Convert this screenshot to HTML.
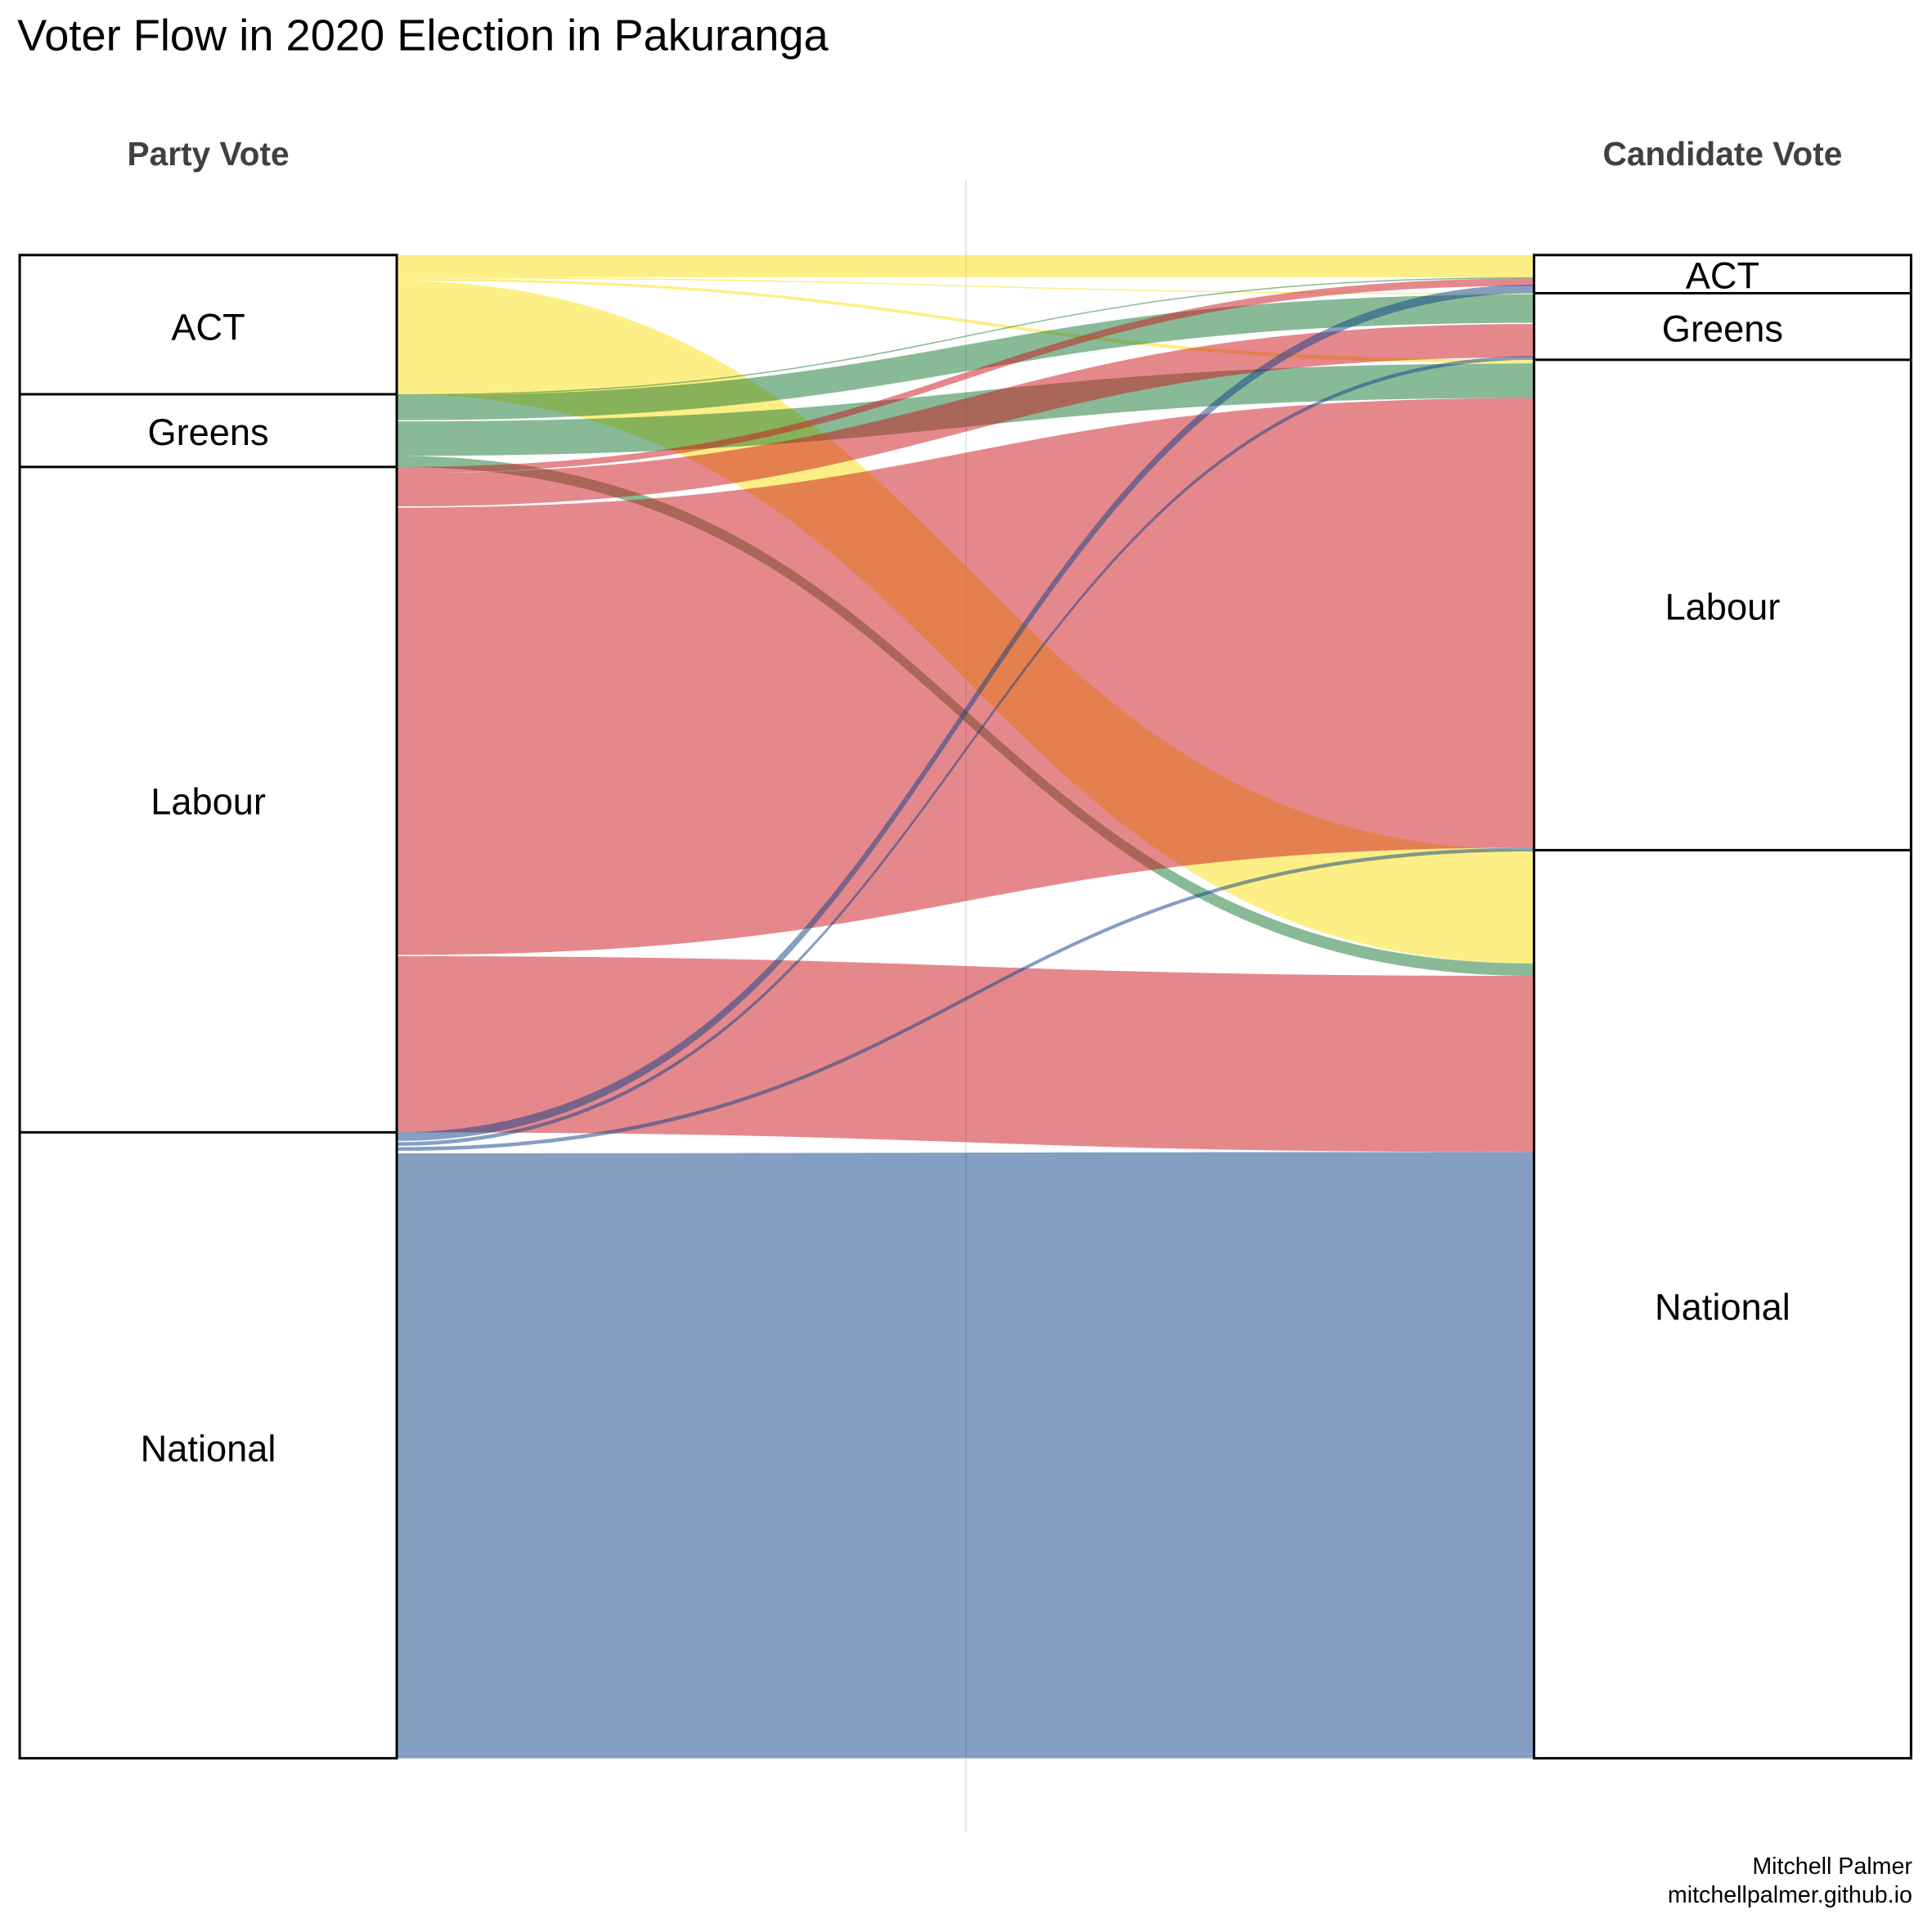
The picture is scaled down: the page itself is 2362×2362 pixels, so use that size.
<!DOCTYPE html>
<html><head><meta charset="utf-8"><style>html,body{margin:0;padding:0;background:#fff}svg{display:block}</style></head>
<body>
<svg width="2362" height="2362" viewBox="0 0 1568 1568" xmlns="http://www.w3.org/2000/svg" font-family="Liberation Sans, Arial, sans-serif">
<rect width="1568" height="1568" fill="#fff"/>
<line x1="784" y1="147" x2="784" y2="1487" stroke="#ddd" stroke-width="1"/>
<g fill-opacity="0.5">
<path fill="#F9DF0B" d="M322,207 C783,207 783,207 1245,207 L1245,225 C783,225 783,225 322,225 Z"/>
<path fill="#F9DF0B" d="M322,225 C783,225 783,238 1245,238 L1245,239 C783,239 783,226 322,226 Z"/>
<path fill="#F9DF0B" d="M322,226 C783,226 783,292 1245,292 L1245,295 C783,295 783,228 322,228 Z"/>
<path fill="#F9DF0B" d="M322,228 C783,228 783,690 1245,690 L1245,782 C783,782 783,320 322,320 Z"/>
<path fill="#117530" d="M322,320 C783,320 783,225 1245,225 L1245,226 C783,226 783,321 322,321 Z"/>
<path fill="#117530" d="M322,321 C783,321 783,239 1245,239 L1245,262 C783,262 783,341 322,341 Z"/>
<path fill="#117530" d="M322,342 C783,342 783,295 1245,295 L1245,323 C783,323 783,370 322,370 Z"/>
<path fill="#117530" d="M322,370 C783,370 783,782 1245,782 L1245,792 C783,792 783,379 322,379 Z"/>
<path fill="#CB1119" d="M322,379 C783,379 783,226 1245,226 L1245,232 C783,232 783,384 322,384 Z"/>
<path fill="#CB1119" d="M322,384 C783,384 783,263 1245,263 L1245,290 C783,290 783,411 322,411 Z"/>
<path fill="#CB1119" d="M322,412 C783,412 783,323 1245,323 L1245,688 C783,688 783,775 322,775 Z"/>
<path fill="#CB1119" d="M322,776 C783,776 783,792 1245,792 L1245,935 C783,935 783,919 322,919 Z"/>
<path fill="#0B3F87" d="M322,919 C783,919 783,231 1245,231 L1245,238 C783,238 783,926 322,926 Z"/>
<path fill="#0B3F87" d="M322,927 C783,927 783,289 1245,289 L1245,292 C783,292 783,930 322,930 Z"/>
<path fill="#0B3F87" d="M322,931 C783,931 783,688 1245,688 L1245,691 C783,691 783,934 322,934 Z"/>
<path fill="#0B3F87" d="M322,936 C783,936 783,935 1245,935 L1245,1427 C783,1427 783,1427 322,1427 Z"/>
</g>
<g fill="none" stroke="#000" stroke-width="2">
<rect x="16" y="207" width="306" height="1220"/>
<line x1="16" y1="320" x2="322" y2="320"/>
<line x1="16" y1="379" x2="322" y2="379"/>
<line x1="16" y1="919" x2="322" y2="919"/>
<rect x="1245" y="207" width="306" height="1220"/>
<line x1="1245" y1="238" x2="1551" y2="238"/>
<line x1="1245" y1="292" x2="1551" y2="292"/>
<line x1="1245" y1="690" x2="1551" y2="690"/>
</g>
<g font-size="30" fill="#000" text-anchor="middle">
<text x="169" y="276">ACT</text>
<text x="169" y="361">Greens</text>
<text x="169" y="661">Labour</text>
<text x="169" y="1186">National</text>
<text x="1398" y="234">ACT</text>
<text x="1398" y="277">Greens</text>
<text x="1398" y="503">Labour</text>
<text x="1398" y="1071">National</text>
</g>
<g font-size="27" font-weight="bold" fill="#404040" text-anchor="middle">
<text x="169" y="134">Party Vote</text>
<text x="1398" y="134">Candidate Vote</text>
</g>
<text x="14" y="41" font-size="36" fill="#000">Voter Flow in 2020 Election in Pakuranga</text>
<g font-size="19" fill="#000" text-anchor="end">
<text x="1552" y="1521">Mitchell Palmer</text>
<text x="1552" y="1544">mitchellpalmer.github.io</text>
</g>
</svg>
</body></html>
